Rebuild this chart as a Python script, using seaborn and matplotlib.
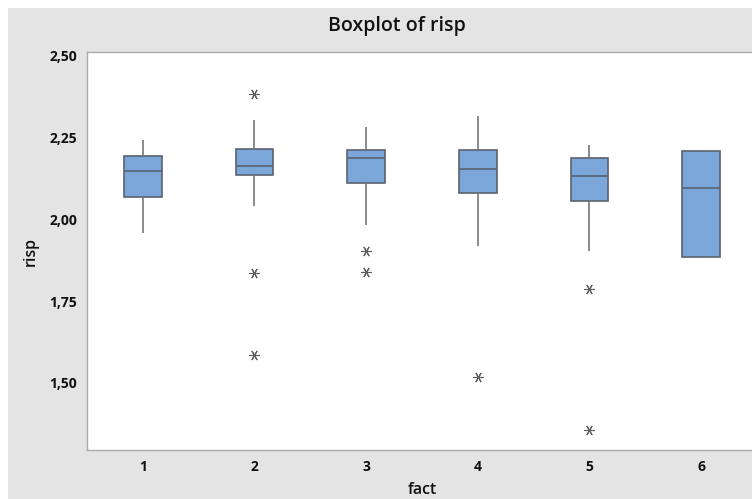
import numpy as np
import pandas as pd
import matplotlib
matplotlib.use("Agg")
import matplotlib.pyplot as plt
from matplotlib.patches import Rectangle
import seaborn as sns

# ---- data ----
fact_levels = ["1", "2", "3", "4", "5", "6"]
risp_1 = [1.960, 2.068, 2.148, 2.193, 2.242]
risp_2 = [1.587, 1.837, 2.042, 2.136, 2.145, 2.155, 2.162, 2.175, 2.200,
          2.216, 2.240, 2.305, 2.383]
risp_3 = [1.840, 1.903, 1.983, 2.110, 2.140, 2.170, 2.188, 2.195, 2.205,
          2.213, 2.240, 2.260, 2.284]
risp_4 = [1.517, 1.919, 2.082, 2.120, 2.153, 2.190, 2.213, 2.260, 2.317]
risp_5 = [1.357, 1.788, 1.902, 2.056, 2.090, 2.110, 2.134, 2.150, 2.170,
          2.187, 2.200, 2.215, 2.228]
risp_6 = [1.886, 1.886, 2.097, 2.208, 2.208]

y_ticks = [1.50, 1.75, 2.00, 2.25, 2.50]
y_tick_labels = ["1,50", "1,75", "2,00", "2,25", "2,50"]

groups = [risp_1, risp_2, risp_3, risp_4, risp_5, risp_6]
df = pd.DataFrame({
    "fact": [lvl for lvl, g in zip(fact_levels, groups) for _ in g],
    "risp": [v for g in groups for v in g],
})

# ---- style ----
sns.set_style("white")
plt.rcParams["font.family"] = ["Open Sans", "DejaVu Sans"]

W, H = 752, 499
fig = plt.figure(figsize=(W / 100, H / 100), dpi=100, facecolor="#E4E4E4")
# thin white margins at the top and left edge (as in the reference)
fig.patches.append(Rectangle((0, 1 - 8 / H), 1, 8 / H, transform=fig.transFigure,
                             facecolor="white", edgecolor="none", zorder=-5))
fig.patches.append(Rectangle((0, 0), 8 / W, 1, transform=fig.transFigure,
                             facecolor="white", edgecolor="none", zorder=-5))

ax_left, ax_right, ax_top, ax_bottom = 87, 757, 52, 450
ax = fig.add_axes([ax_left / W, 1 - ax_bottom / H,
                   (ax_right - ax_left) / W, (ax_bottom - ax_top) / H])
ax.set_facecolor("white")

edge = "#5A6270"
sns.boxplot(data=df, x="fact", y="risp", order=fact_levels, ax=ax,
            color="#7BA6D9", saturation=1, width=0.34, whis=1.5,
            showcaps=False, linewidth=1.2, linecolor=edge,
            boxprops=dict(edgecolor=edge),
            whiskerprops=dict(color="#777777", linewidth=1.2),
            medianprops=dict(color=edge, linewidth=1.2),
            flierprops=dict(marker=(6, 2, 30), markersize=7.5,
                            markeredgecolor="#5E5E5E", markerfacecolor="#5E5E5E",
                            markeredgewidth=0.8))

ax.set_xlim(-0.5, 5.5)
ax.set_ylim(1.295, 2.512)
ax.set_yticks(y_ticks)
ax.set_yticklabels(y_tick_labels)

for s in ["left", "bottom", "top"]:
    ax.spines[s].set_color("#ABABAB")
    ax.spines[s].set_linewidth(1.0)
ax.spines["right"].set_visible(False)

ax.tick_params(axis="both", which="major", direction="out", length=4,
               width=0.8, color="#9A9A9A", labelsize=10, pad=3)
for lbl in ax.get_xticklabels() + ax.get_yticklabels():
    lbl.set_fontweight("bold")
    lbl.set_color("#111111")

ax.set_xlabel("fact", fontsize=11.5, fontweight="semibold", color="#111111", labelpad=6)
ax.set_ylabel("risp", fontsize=11.5, fontweight="semibold", color="#111111", labelpad=8)

fig.text(397 / W, 1 - 26 / H, "Boxplot of risp", ha="center", va="center",
         fontsize=14, fontweight="semibold", color="#111111")

fig.savefig("out.png", dpi=100, facecolor=fig.get_facecolor())
